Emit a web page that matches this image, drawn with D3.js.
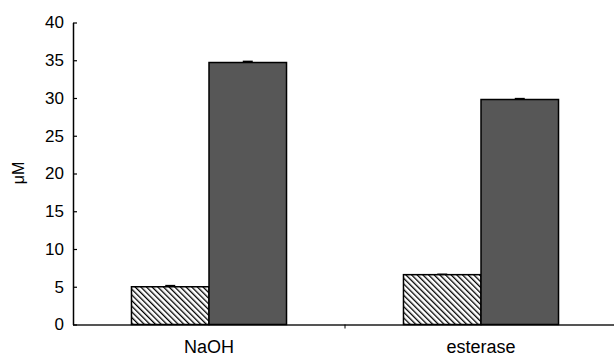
<!DOCTYPE html>
<html>
<head>
<meta charset="utf-8">
<script src="https://cdn.jsdelivr.net/npm/d3@7"></script>
<style>
  body { margin: 0; background: #fff; }
  text { font-family: "Liberation Sans", Arial, sans-serif; fill: #000; }
</style>
</head>
<body>
<svg id="chart" width="614" height="357"></svg>
<script>
var categories = ["NaOH", "esterase"];
var series = ["hatched", "solid"];
var hatchedValues = [5.0, 6.6];
var solidValues = [34.7, 29.8];
var hatchedErr = [0.15, 0.05];
var solidErr = [0.15, 0.12];
var yTicks = [0, 5, 10, 15, 20, 25, 30, 35, 40];

var svg = d3.select("#chart");

var x0 = 73, x1 = 617,
    yTop = 22.5, yBot = 324.5;

var x = d3.scaleBand()
  .domain(categories)
  .range([x0, x1])
  .paddingInner(0.43)
  .paddingOuter(0.215);

var xs = d3.scaleBand()
  .domain(series)
  .range([0, x.bandwidth()]);

var y = d3.scaleLinear()
  .domain([0, 40])
  .range([yBot, yTop]);

// hatch pattern
var defs = svg.append("defs");
defs.append("pattern")
  .attr("id", "hatch")
  .attr("patternUnits", "userSpaceOnUse")
  .attr("width", 4)
  .attr("height", 4)
  .attr("patternTransform", "rotate(-45)")
  .append("rect")
  .attr("x", 0).attr("y", 0)
  .attr("width", 1.3).attr("height", 4)
  .attr("fill", "#000");

var rows = categories.map(function(c, i) {
  return [
    {cat: c, s: "hatched", v: hatchedValues[i], e: hatchedErr[i]},
    {cat: c, s: "solid", v: solidValues[i], e: solidErr[i]}
  ];
});
var flat = [].concat.apply([], rows);

// x axis line (gray)
svg.append("line")
  .attr("x1", x0).attr("x2", 614)
  .attr("y1", yBot + 0.5).attr("y2", yBot + 0.5)
  .attr("stroke", "#555").attr("stroke-width", 2);

// middle tick between groups
svg.append("line")
  .attr("x1", (x(categories[0]) + x.bandwidth() + x(categories[1])) / 2)
  .attr("x2", (x(categories[0]) + x.bandwidth() + x(categories[1])) / 2)
  .attr("y1", yBot).attr("y2", yBot + 4)
  .attr("stroke", "#000").attr("stroke-width", 1);

// bars
svg.selectAll("rect.bar")
  .data(flat)
  .enter().append("rect")
  .attr("class", "bar")
  .attr("x", function(d) { return x(d.cat) + xs(d.s); })
  .attr("y", function(d) { return y(d.v); })
  .attr("width", xs.bandwidth())
  .attr("height", function(d) { return yBot - y(d.v); })
  .attr("fill", function(d) { return d.s == "hatched" ? "url(#hatch)" : "#575757"; })
  .attr("stroke", "#000")
  .attr("stroke-width", 1.5);

// error bars (only the upper cap shows)
svg.selectAll("line.err")
  .data(flat)
  .enter().append("line")
  .attr("class", "err")
  .attr("x1", function(d) { return x(d.cat) + xs(d.s) + xs.bandwidth() / 2 - 5; })
  .attr("x2", function(d) { return x(d.cat) + xs(d.s) + xs.bandwidth() / 2 + 5; })
  .attr("y1", function(d) { return y(d.v + d.e); })
  .attr("y2", function(d) { return y(d.v + d.e); })
  .attr("stroke", "#000")
  .attr("stroke-width", 1.5);

// y axis
var yAxis = d3.axisLeft(y)
  .tickValues(yTicks)
  .tickSizeInner(-4)
  .tickSizeOuter(0)
  .tickPadding(9);

var gy = svg.append("g")
  .attr("transform", "translate(" + x0 + ",0)")
  .call(yAxis);
gy.select(".domain").attr("stroke", "#000").attr("stroke-width", 1.5);
gy.selectAll(".tick line").attr("stroke", "#000").attr("stroke-width", 1.2);
gy.selectAll(".tick text")
  .style("font-size", "17px")
  .attr("fill", "#000");

// x labels
svg.selectAll("text.cat")
  .data(categories)
  .enter().append("text")
  .attr("class", "cat")
  .attr("x", function(d) { return x(d) + x.bandwidth() / 2; })
  .attr("y", 353)
  .attr("text-anchor", "middle")
  .style("font-size", "18px")
  .text(function(d) { return d; });

// y label
svg.append("text")
  .attr("transform", "translate(24,173) rotate(-90)")
  .attr("text-anchor", "middle")
  .style("font-size", "16px")
  .text("μM");
</script>
</body>
</html>
